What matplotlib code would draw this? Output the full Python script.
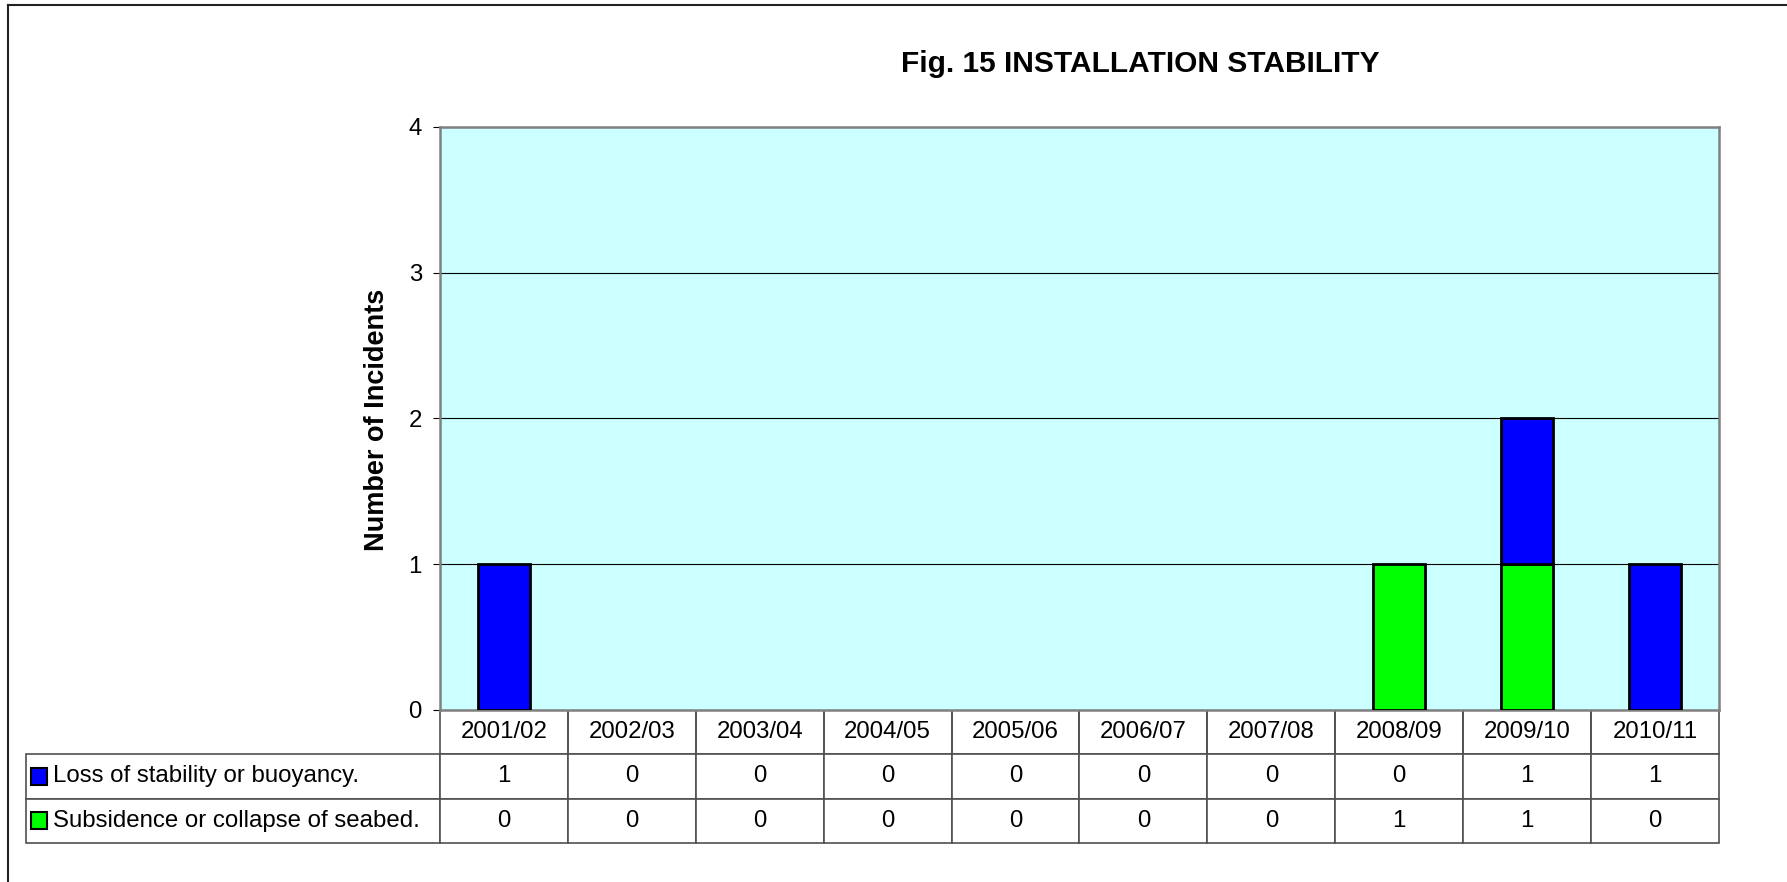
import matplotlib
matplotlib.use("Agg")
from matplotlib import pyplot as plt
from matplotlib.patches import Rectangle
from matplotlib.lines import Line2D

plt.rcParams['font.family'] = ['Liberation Sans', 'DejaVu Sans']

years = ['2001/02', '2002/03', '2003/04', '2004/05', '2005/06',
         '2006/07', '2007/08', '2008/09', '2009/10', '2010/11']
loss = [1, 0, 0, 0, 0, 0, 0, 0, 1, 1]
subsidence = [0, 0, 0, 0, 0, 0, 0, 1, 1, 0]
series_names = ['Loss of stability or buoyancy.', 'Subsidence or collapse of seabed.']
series_colors = ['#0000FF', '#00FF00']
yticks = [0, 1, 2, 3, 4]

W, H = 1787, 882
fig = plt.figure(figsize=(W / 100, H / 100), dpi=100)
ax = fig.add_axes([440 / W, 1 - 710 / H, 1279 / W, 583.3 / H])
ax.set_facecolor('#CCFFFF')

x = list(range(len(years)))
# zero-height bars get no outline, like the original
ax.bar(x, subsidence, width=0.41, color=series_colors[1], edgecolor='black',
       linewidth=[2 if v else 0 for v in subsidence], zorder=3)
ax.bar(x, loss, width=0.41, bottom=subsidence, color=series_colors[0], edgecolor='black',
       linewidth=[2 if v else 0 for v in loss], zorder=3)

ax.set_xlim(-0.5, len(years) - 0.5)
ax.set_ylim(0, 4)
ax.set_yticks(yticks)
ax.set_xticks([])
ax.tick_params(axis='y', labelsize=17.3, length=5, width=0.8, color='black', pad=8)
ax.yaxis.grid(True, color='black', linewidth=0.8)
ax.set_axisbelow(True)
for s in ax.spines.values():
    s.set_color('#808080')
    s.set_linewidth(1.8)

ax.text(-0.0493, 0.497, 'Number of Incidents', transform=ax.transAxes, rotation=90,
        ha='center', va='center', fontsize=19.5, fontweight='bold')

fig.text(1140 / W, 1 - 72 / H, 'Fig. 15 INSTALLATION STABILITY', ha='center', va='baseline',
         fontsize=21.5, fontweight='bold')

# data table under the chart
label_w = 414 / 1279
row_h = 0.228 / 3
cell_text = [[str(v) for v in loss], [str(v) for v in subsidence]]
tbl = ax.table(cellText=cell_text, colLabels=years, colWidths=[0.1] * len(years),
               cellLoc='center', colLoc='center',
               bbox=[0, -0.228, 1, 0.228])
for i, name in enumerate(series_names):
    tbl.add_cell(i + 1, -1, width=label_w, height=row_h, text=name, loc='left')
tbl.auto_set_font_size(False)
tbl.set_fontsize(17.3)
for (r, c), cell in tbl.get_celld().items():
    cell.set_height(row_h)
    cell.set_edgecolor('#505050')
    cell.set_linewidth(1.2)
    cell.set_facecolor('white')
    if r == 0:
        cell.visible_edges = 'BLR'
    if c == -1:
        cell.PAD = 0.065

for i, col in enumerate(series_colors):
    yc = -row_h * (1.5 + i)
    ax.add_patch(Rectangle((-label_w + 5 / 1279, yc - 8.5 / 583.3), 16 / 1279, 17 / 583.3,
                           transform=ax.transAxes, facecolor=col, edgecolor='black',
                           linewidth=1.5, clip_on=False, zorder=5))

# chart area frame (left and top edges)
fig.add_artist(Line2D([8 / W, 8 / W], [0, 1 - 5 / H], color='#222222', linewidth=1.5))
fig.add_artist(Line2D([8 / W, 1], [1 - 5 / H, 1 - 5 / H], color='#222222', linewidth=1.5))

fig.savefig('out.png', dpi=100)
